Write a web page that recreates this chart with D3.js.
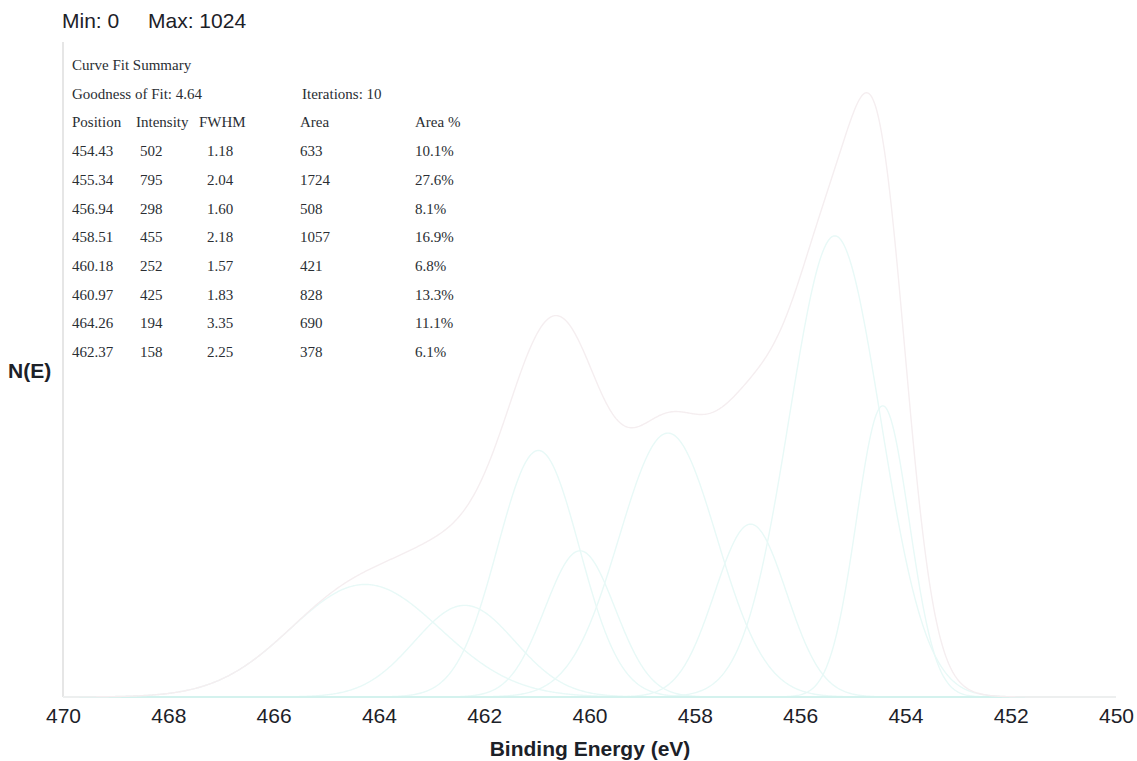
<!DOCTYPE html>
<html>
<head>
<meta charset="utf-8">
<script src="https://cdn.jsdelivr.net/npm/d3@7"></script>
<style>
  html, body { margin: 0; padding: 0; background: #fff; }
  svg { display: block; }
  .sans { font-family: "Liberation Sans", Arial, Helvetica, sans-serif; }
  .serif { font-family: "Liberation Serif", "Times New Roman", serif; }
</style>
</head>
<body>
<svg id="chart" width="1137" height="761"></svg>
<script>
// Curve-fit components (Gaussian peaks) for the spectrum
const positions   = [454.43, 455.34, 456.94, 458.51, 460.18, 460.97, 464.26, 462.37];
const intensities = [502, 795, 298, 455, 252, 425, 194, 158];
const fwhms       = [1.18, 2.04, 1.60, 2.18, 1.57, 1.83, 3.35, 2.25];
const areas       = [633, 1724, 508, 1057, 421, 828, 690, 378];
const areaPcts    = ["10.1%", "27.6%", "8.1%", "16.9%", "6.8%", "13.3%", "11.1%", "6.1%"];
const xTicks      = [470, 468, 466, 464, 462, 460, 458, 456, 454, 452, 450];
const yMin = 0, yMax = 1024;
const goodnessOfFit = "4.64";
const iterations = "10";

const svg = d3.select("#chart");

const x = d3.scaleLinear().domain([470, 450]).range([63, 1116]);
const y = d3.scaleLinear().domain([yMin, yMax]).range([697, 103]);

// energy grid across the plotted window
const grid = d3.range(0, 1001).map(i => 470 - i * 0.02);

const gauss = (e, pos, h, w) => {
  const s = w / (2 * Math.sqrt(2 * Math.LN2));
  return h * Math.exp(-((e - pos) ** 2) / (2 * s * s));
};

const comps = positions.map((p, i) => grid.map(e => [e, gauss(e, p, intensities[i], fwhms[i])]));
const envelope = grid.map((e, k) => [e, d3.sum(comps, c => c[k][1])]);

const line = d3.line().x(d => x(d[0])).y(d => y(d[1])).curve(d3.curveLinear);

// soft rendering for the faint traces
const defs = svg.append("defs");
defs.append("filter").attr("id", "soft")
  .append("feGaussianBlur").attr("stdDeviation", 0.5);

// vertical axis line
svg.append("line")
  .attr("x1", x(470)).attr("x2", x(470))
  .attr("y1", 42).attr("y2", y(0))
  .attr("stroke", "#d6d6d6").attr("stroke-width", 1.2);

const traces = svg.append("g").attr("filter", "url(#soft)");

// component peaks
traces.append("g").selectAll("path").data(comps).join("path")
  .attr("d", line)
  .attr("fill", "none")
  .attr("stroke", "#e8f9f7")
  .attr("stroke-width", 1.4);

// baseline
traces.append("line")
  .attr("x1", x(470)).attr("x2", x(450))
  .attr("y1", y(0)).attr("y2", y(0))
  .attr("stroke", "#d4f2ee").attr("stroke-width", 2);

// fitted envelope
traces.append("path")
  .attr("d", line(envelope))
  .attr("fill", "none")
  .attr("stroke", "#f5eef0")
  .attr("stroke-width", 1.4);

// x axis
const xAxis = d3.axisBottom(x).tickValues(xTicks).tickSize(0).tickPadding(11).tickFormat(d3.format("d"));
const gx = svg.append("g").attr("transform", `translate(0,${y(0)})`).call(xAxis);
gx.select(".domain").remove();
gx.selectAll("text")
  .attr("class", "sans")
  .attr("font-size", 21)
  .attr("fill", "#1c2128");

svg.append("text").attr("class", "sans")
  .attr("x", 590).attr("y", 756)
  .attr("text-anchor", "middle")
  .attr("font-size", 21).attr("font-weight", "bold")
  .attr("fill", "#1c2128")
  .text("Binding Energy (eV)");

svg.append("text").attr("class", "sans")
  .attr("x", 8).attr("y", 378)
  .attr("font-size", 21).attr("font-weight", "bold")
  .attr("fill", "#1c2128")
  .text("N(E)");

// range header
svg.append("text").attr("class", "sans")
  .attr("x", 62).attr("y", 28)
  .attr("font-size", 21).attr("fill", "#1c2128")
  .text(`Min: ${yMin}`);
svg.append("text").attr("class", "sans")
  .attr("x", 148).attr("y", 28)
  .attr("font-size", 21).attr("fill", "#1c2128")
  .text(`Max: ${yMax}`);

// curve fit summary table
const tbl = svg.append("g").attr("class", "serif").attr("font-size", 15).attr("fill", "#2a2e33");
const rowY = i => 70 + i * 28.7;
const cols = [72, 138, 199, 300, 415];

tbl.append("text").attr("x", 72).attr("y", rowY(0)).text("Curve Fit Summary");
tbl.append("text").attr("x", 72).attr("y", rowY(1)).text(`Goodness of Fit: ${goodnessOfFit}`);
tbl.append("text").attr("x", 302).attr("y", rowY(1)).text(`Iterations: ${iterations}`);

const headers = ["Position", "Intensity", "FWHM", "Area", "Area %"];
headers.forEach((h, j) => {
  tbl.append("text").attr("x", cols[j] - (j === 1 ? 2 : 0)).attr("y", rowY(2)).text(h);
});

positions.forEach((p, i) => {
  const vals = [p.toFixed(2), String(intensities[i]), fwhms[i].toFixed(2), String(areas[i]), areaPcts[i]];
  const offs = [0, 2, 8, 0, 0];
  vals.forEach((v, j) => {
    tbl.append("text").attr("x", cols[j] + offs[j]).attr("y", rowY(3 + i)).text(v);
  });
});
</script>
</body>
</html>
